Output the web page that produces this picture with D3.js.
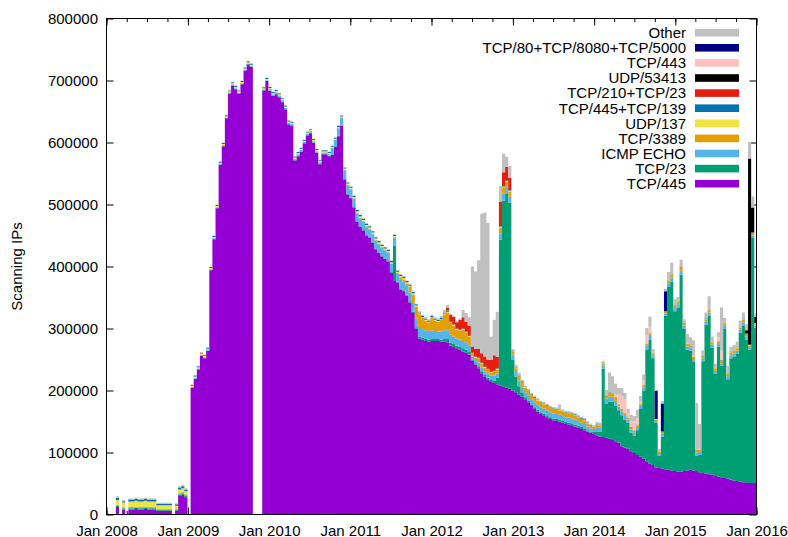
<!DOCTYPE html>
<html>
<head>
<meta charset="utf-8">
<script src="https://cdn.jsdelivr.net/npm/d3@7"></script>
<style>
  body { margin: 0; background: #fff; }
  text { font-family: "Liberation Sans", Arial, sans-serif; font-size: 15px; fill: #000; }
</style>
</head>
<body>
<div id="chart"></div>
<script>
//Data: scanning IPs per two-week period (thousands), first period starts Jan 1 2008
var tcp445 = [
  0,0,0,12,0, 8,0,8,8,9, 8,8,9,8,8, 8,6,6,6,6, 6,0,6,30,32, 28,
  0,204,219,234,256, 252,264,394,444,494, 564,594,639,679,692, 686,679,694,716,726, 722,0,0,0,684, 699,
  683,675,678,673,665, 653,629,627,571,578, 585,598,611,615,599, 583,565,581,581,578, 580,593,610,627,540, 516,
  510,495,472,464,458, 450,446,438,428,422, 416,412,408,390,378, 374,363,360,353,342, 325,300,284,282,280, 279,
  280,280,280,279,279, 278,272,270,268,266, 263,261,258,248,242, 236,228,222,218,215, 212,210,208,206,205, 203,
  200,197,193,190,186, 181,175,170,166,162, 160,157,154,152,151, 150,148,146,145,144, 142,140,138,136,134, 132,
  130,128,126,125,124, 122,120,118,116,110, 108,106,102,99,96, 93,90,86,82,80, 76,75,74,73,72, 71,
  70,69,69,70,71, 72,71,70,68,67, 66,65,64,62,61, 60,59,58,56,55, 54,53,52,52,51, 51,51
];
var tcp23 = [
  0,0,0,2,0, 2,0,2,2,2, 2,2,2,2,2, 2,1.5,1.5,1.5,1.5, 1.5,0,1.5,2,2, 2,
  0,0.5,0.5,0.5,0.5, 0.5,0.5,0.5,0.5,0.5, 0.5,0.5,0.5,0.5,0.5, 0.5,0.5,0.5,0.5,0.5, 0.5,0,0,0,0.5, 0.5,
  1,1,1,1,1, 1,1,1,1,1, 1,1,1,1,1, 1,1,1,1,1, 1,1,1,1,1, 1,
  1,1,1,1,1, 1,1,1,1,1, 1,1,1,1,55, 1.5,1.5,1.5,1.5,2, 2,2,3,3,3, 3,
  3,3,3,3,4, 5,5,5,4,4, 5,5,4,2,2, 3,3,3,3,3, 4,10,235,300,312, 300,
  50,25,14,6,3, 3,3,3,3,3, 3,3,3,3,3, 3,3,3,3,3, 3,3,3,3,2, 2,
  3,5,8,110,55, 60,62,58,52,50, 45,42,30,28,40, 77,110,180,200,172, 72,20,52,248,295, 305,
  258,265,318,230,195, 192,175,25,28,180, 240,255,205,165,210, 180,240,160,196,200, 205,240,252,230,215, 395,250
];
var icmpEcho = [
  0,0,0,1,0, 1,0,1.5,1.5,1.5, 1.5,1.5,1.5,1.5,1.5, 1.5,1,1,1,1, 1,0,1,2,2, 2,
  0,1,1,1,1, 1,1,1,1,1, 1,1,1,1,1, 1,1,1,1,1, 1,0,0,0,1, 1,
  2,2,2,2,2, 2,2,2,2,2, 2,2,2,2,2, 2,2,2,2,2, 10,10,12,12,14, 14,
  13,13,13,13,13, 13,13,13,13,13, 13,13,13,13,13, 13,14,14,14,14, 14,14,14,14,14, 14,
  14,13,12,13,14, 14,13,12,12,12, 12,12,11,5,5, 6,6,6,6,6, 8,8,10,12,10, 10,
  8,8,9,9,8, 8,8,8,8,8, 8,8,8,8,8, 8,8,8,8,8, 8,8,7,7,6, 5,
  5,8,6,5,8, 8,8,7,6,6, 6,5,5,5,5, 5,5,6,6,5, 3,4,4,3,6, 6,
  5,5,6,5,5, 5,5,5,5,5, 5,6,5,5,4, 4,5,5,5,5, 5,5,6,5,4, 4,4
];
var tcp3389 = [
  0,0,0,0.5,0, 0.5,0,0.5,0.5,0.5, 0.5,0.5,0.5,0.5,0.5, 0.5,0.5,0.5,0.5,0.5, 0.5,0,0.5,0.5,0.5, 0.5,
  0,0,0,0,0, 0,0,0,0,0, 0,0,0,0,0, 0,0,0,0,0, 0,0,0,0,0, 0,
  0,0,0,0,0, 0,0,0,0,0, 0,0,0,0,0, 0,0,0,0,0, 0,0,0,0,1, 1,
  1,1,1,1,1, 1,1,1,1,1, 1,1,1,1,1, 1,4,4,4,9, 14,19,22,18,16, 14,
  20,17,16,19,26, 29,20,18,14,14, 18,15,14,4,4, 6,6,6,6,5, 6,6,10,10,10, 8,
  5,6,8,9,8, 7,7,7,7,7, 7,7,7,7,7, 7,7,7,7,7, 7,6,6,6,5, 4,
  3,4,4,4,5, 6,5,5,4,4, 4,4,3,3,3, 3,3,4,4,3, 2,3,3,3,5, 5,
  4,4,5,4,5, 4,4,4,4,4, 4,5,4,4,4, 4,4,4,4,4, 4,4,5,4,3, 4,3
];
var udp137 = [
  0,0,0,8,0, 8,0,9,9,9, 9,9,9,9,9, 9,6,6,6,6, 6,0,5,6,6, 5,
  0,2,2,2,2, 2,2,2,2,2, 2,2,2,2,2, 2,2,2,2,2, 2,0,0,0,2, 2,
  2,2,2,2,2, 2,2,2,2,2, 2,2,2,2,2, 2,2,2,2,2, 2,2,2,2,2, 2,
  2,2,2,2,2, 2,2,2,2,2, 2,2,2,2,2, 2,2,2,2,2, 2,2,1,1,1, 1,
  1,1,1,1,1, 1,1,1,1,1, 1,1,1,1,1, 1,1,1,1,1, 1,1,1,1,1, 1,
  0.5,0.5,0.5,0.5,0.5, 0.5,0.5,0.5,0.5,0.5, 0.5,0.5,0.5,0.5,0.5, 0.5,0.5,0.5,0.5,0.5, 0.5,0.5,0.5,0.5,0.5, 0.5,
  0.5,0.5,0.5,0.5,0.5, 0.5,0.5,0.5,0.5,0.5, 0.5,0.5,0.5,0.5,0.5, 0.5,0.5,0.5,0.5,0.5, 0.5,0.5,0.5,0.5,0.5, 0.5,
  0.5,0.5,0.5,0.5,0.5, 0.5,0.5,0.5,0.5,0.5, 0.5,0.5,0.5,0.5,0.5, 0.5,0.5,0.5,0.5,0.5, 0.5,0.5,0.5,0.5,0.5, 0.5,0.5
];
var tcp445139 = [
  0,0,0,3,0, 2,0,3,3,3, 3,3,3,3,3, 3,2.5,2.5,2.5,2.5, 2.5,0,2.5,3,3, 3,
  0,1.5,1.5,1.5,1.5, 1.5,1.5,1.5,1.5,1.5, 1.5,1.5,1.5,1.5,1.5, 1.5,1.5,1.5,1.5,1.5, 1.5,0,0,0,1.5, 1.5,
  1.5,1.5,1.5,1.5,1.5, 1.5,1.5,1.5,1.5,1.5, 1.5,1.5,1.5,1.5,1.5, 1.5,1.5,1.5,1.5,1.5, 1.5,1.5,1.5,1.5,1.5, 1.5,
  2,2,2,2,2, 2,2,2,2,2, 2,2,2,2,2, 2,2,2,2,2, 2,2,2,2,2, 2,
  2,2,2,2,2, 2,1,1,1,1, 1,1,1,1,1, 1,1,1,1,1, 1,1,1,1,1, 1,
  1,1,1,1,1, 1,1,1,1,1, 1,1,1,1,1, 1,1,1,1,1, 1,1,1,1,1, 1,
  0.5,0.5,0.5,0.5,0.5, 0.5,0.5,0.5,0.5,0.5, 0.5,0.5,0.5,0.5,0.5, 0.5,0.5,0.5,0.5,0.5, 0.5,0.5,0.5,0.5,0.5, 0.5,
  0.5,0.5,0.5,0.5,0.5, 0.5,0.5,0.5,0.5,0.5, 0.5,0.5,0.5,0.5,0.5, 0.5,0.5,0.5,0.5,0.5, 0.5,0.5,0.5,0.5,0.5, 0.5,0.5
];
var tcp21023 = [
  0,0,0,0,0, 0,0,0,0,0, 0,0,0,0,0, 0,0,0,0,0, 0,0,0,0,0, 0,
  0,0,0,0,0, 0,0,0,0,0, 0,0,0,0,0, 0,0,0,0,0, 0,0,0,0,0, 0,
  0,0,0,0,0, 0,0,0,0,0, 0,0,0,0,0, 0,0,0,0,0, 0,0,0,0,0, 0,
  0,0,0,0,0, 0,0,0,0,0, 0,0,0,0,0, 0,0,0,0,0, 0,0,0,0,0, 0,
  0,0,0,0,0, 4,10,12,10,16, 18,16,16,10,12, 14,15,16,15,18, 25,18,40,22,22, 20,
  0,0,0,0,0, 0,0,0,0,0, 0,0,0,0,0, 0,0,0,0,0, 0,0,0,0,0, 0,
  0,0,0,0,0, 0,0,0,0,0, 0,0,0,0,0, 0,0,0,0,0, 0,0,0,0,0, 0,
  0,0,0,0,0, 0,0,0,0,0, 0,0,0,0,0, 0,0,0,0,0, 0,0,0,0,0, 0,0
];
var udp53413 = [
  0,0,0,0,0, 0,0,0,0,0, 0,0,0,0,0, 0,0,0,0,0, 0,0,0,0,0, 0,
  0,0,0,0,0, 0,0,0,0,0, 0,0,0,0,0, 0,0,0,0,0, 0,0,0,0,0, 0,
  0,0,0,0,0, 0,0,0,0,0, 0,0,0,0,0, 0,0,0,0,0, 0,0,0,0,0, 0,
  0,0,0,0,0, 0,0,0,0,0, 0,0,0,0,0, 0,0,0,0,0, 0,0,0,0,0, 0,
  0,0,0,0,0, 0,0,0,0,0, 0,0,0,0,0, 0,0,0,0,0, 0,0,0,0,0, 0,
  0,0,0,0,0, 0,0,0,0,0, 0,0,0,0,0, 0,0,0,0,0, 0,0,0,0,0, 0,
  0,0,0,0,0, 0,0,0,0,0, 0,0,0,0,0, 0,0,0,0,0, 0,0,0,0,0, 0,
  0,0,0,0,0, 0,0,0,0,0, 0,0,0,0,0, 0,0,0,0,0, 0,0,0,5,300, 40,10
];
var tcp443 = [
  0,0,0,0,0, 0,0,0,0,0, 0,0,0,0,0, 0,0,0,0,0, 0,0,0,0,0, 0,
  0,0,0,0,0, 0,0,0,0,0, 0,0,0,0,0, 0,0,0,0,0, 0,0,0,0,0, 0,
  0,0,0,0,0, 0,0,0,0,0, 0,0,0,0,0, 0,0,0,0,0, 0,0,0,0,0, 0,
  0,0,0,0,0, 0,0,0,0,0, 0,0,0,0,0, 0,0,0,0,0, 0,0,0,0,0, 0,
  0,0,0,0,0, 0,0,0,0,0, 0,0,0,0,0, 0,0,0,0,0, 0,0,0,0,0, 0,
  0,0,0,0,0, 0,0,0,0,0, 0,0,0,0,0, 0,0,0,0,0, 0,0,0,0,0, 0,
  0,0,0,0,0, 0,0,4,15,20, 22,5,10,15,10, 4,8,12,10,0, 0,0,0,0,0, 0,
  0,0,0,0,0, 0,0,0,0,0, 0,0,0,0,6, 15,0,0,0,0, 0,0,0,0,0, 0,0
];
var tcp80 = [
  0,0,0,0,0, 0,0,0,0,0, 0,0,0,0,0, 0,0,0,0,0, 0,0,0,0,0, 0,
  0,0,0,0,0, 0,0,0,0,0, 0,0,0,0,0, 0,0,0,0,0, 0,0,0,0,0, 0,
  0,0,0,0,0, 0,0,0,0,0, 0,0,0,0,0, 0,0,0,0,0, 0,0,0,0,0, 0,
  0,0,0,0,0, 0,0,0,0,0, 0,0,0,0,0, 0,0,0,0,0, 0,0,0,0,0, 0,
  0,0,0,0,0, 0,0,0,0,0, 0,0,0,0,0, 0,0,0,0,0, 0,0,0,0,0, 0,
  0,0,0,0,0, 0,0,0,0,0, 0,0,0,0,0, 0,0,0,0,0, 0,0,0,0,0, 0,
  0,0,0,0,0, 0,0,0,0,0, 0,0,0,0,0, 0,0,0,0,0, 45,0,45,32,0, 0,
  0,0,0,0,0, 0,0,0,0,0, 0,0,0,0,0, 0,0,0,0,0, 0,0,0,0,0, 0,0
];
var other = [
  0,0,0,3,0, 2,0,2,2,2, 2,2,2,2,2, 2,1.5,1.5,1.5,1.5, 1.5,0,1.5,2,2, 2,
  0,1,1,1,1, 1,1,1,1,1, 1,1,1,1,1, 1,1,1,1,1, 1,0,0,0,1, 1,
  0.5,0.5,0.5,0.5,0.5, 0.5,0.5,0.5,0.5,0.5, 0.5,0.5,0.5,0.5,0.5, 0.5,0.5,0.5,0.5,0.5, 1,1,1,1,1, 1,
  1,1,1,1,1, 1,1,1,1,1, 1,1,1,1,1, 1,1,1,1,1, 1,1,2,2,2, 2,
  2,2,2,3,4, 5,2,2,2,2, 12,14,13,129,125, 143,225,232,220,38, 57,73,25,30,16, 19,
  2,4,3,2,1, 2,2,2,2,2, 2,2,2,2,2, 8,2,2,2,2, 2,2,2,2,2, 2,
  2,3,3,2,8, 32,27,18,10,13, 10,7,10,8,14, 8,9,12,16,6, 3,3,4,4,12, 18,
  9,7,12,5,14, 12,25,75,40,8, 10,20,8,6,8, 70,8,12,8,8, 10,10,10,10,27, 18,5
];

var labels = ["TCP/445", "TCP/23", "ICMP ECHO", "TCP/3389", "UDP/137", "TCP/445+TCP/139",
              "TCP/210+TCP/23", "UDP/53413", "TCP/443", "TCP/80+TCP/8080+TCP/5000", "Other"];
var values = [tcp445, tcp23, icmpEcho, tcp3389, udp137, tcp445139, tcp21023, udp53413, tcp443, tcp80, other];
var yTicks = [0, 100000, 200000, 300000, 400000, 500000, 600000, 700000, 800000];

var color = d3.scaleOrdinal()
    .domain(labels)
    .range(["#9400d3", "#009e73", "#56b4e9", "#e69f00", "#f0e442", "#0072b2",
            "#e51e10", "#000000", "#ffc0c0", "#000080", "#c0c0c0"]);

var start = new Date(2008, 0, 1);
var rows = tcp445.map(function(v, i) {
  var row = { date: d3.timeDay.offset(start, 14 * i) };
  labels.forEach(function(l, k) { row[l] = (values[k][i] || 0) * 1000; });
  return row;
});
// repeat the last period so its step reaches the right edge
var lastRow = Object.assign({}, rows[rows.length - 1]);
lastRow.date = d3.timeDay.offset(start, 14 * rows.length);
rows.push(lastRow);

var margin = { top: 18.5, left: 106.5, right: 756.5, bottom: 514.5 };
var width = 788, height = 537;

var x = d3.scaleTime()
    .domain([new Date(2008, 0, 1), new Date(2016, 0, 1)])
    .range([margin.left, margin.right]);
var y = d3.scaleLinear()
    .domain([0, 800000])
    .range([margin.bottom, margin.top]);

var svg = d3.select("#chart").append("svg")
    .attr("width", width)
    .attr("height", height);

svg.append("clipPath").attr("id", "plot")
  .append("rect")
    .attr("x", margin.left).attr("y", margin.top)
    .attr("width", margin.right - margin.left)
    .attr("height", margin.bottom - margin.top);

//Ticks (drawn under the data, like gnuplot)
function ticks(g) {
  g.select(".domain").remove();
  g.selectAll(".tick line").attr("stroke", "#000");
}
svg.append("g").attr("transform", "translate(0," + margin.bottom + ")")
    .call(d3.axisBottom(x).ticks(d3.timeMonth.every(3)).tickSize(-3.5).tickFormat(""))
    .call(ticks);
svg.append("g").attr("transform", "translate(0," + margin.top + ")")
    .call(d3.axisTop(x).ticks(d3.timeMonth.every(3)).tickSize(-3.5).tickFormat(""))
    .call(ticks);
svg.append("g").attr("transform", "translate(0," + margin.top + ")")
    .call(d3.axisTop(x).ticks(d3.timeYear).tickSize(-7).tickFormat(""))
    .call(ticks);
var xAxis = svg.append("g").attr("transform", "translate(0," + margin.bottom + ")")
    .call(d3.axisBottom(x).ticks(d3.timeYear).tickSize(-7).tickPadding(11)
          .tickFormat(d3.timeFormat("%b %Y")))
    .call(ticks);
var yAxis = svg.append("g").attr("transform", "translate(" + margin.left + ",0)")
    .call(d3.axisLeft(y).tickValues(yTicks).tickSize(-7).tickPadding(8.5)
          .tickFormat(d3.format("d")))
    .call(ticks);
svg.append("g").attr("transform", "translate(" + margin.right + ",0)")
    .call(d3.axisRight(y).tickValues(yTicks).tickSize(-7).tickFormat(""))
    .call(ticks);
svg.selectAll(".tick text").attr("font-size", null).attr("font-family", null);
xAxis.attr("font-size", null).attr("font-family", null);
yAxis.attr("font-size", null).attr("font-family", null);

//Stacked areas
var stack = d3.stack().keys(labels)(rows);
var area = d3.area()
    .curve(d3.curveStepAfter)
    .x(function(d) { return x(d.data.date); })
    .y0(function(d) { return y(d[0]); })
    .y1(function(d) { return y(d[1]); });

svg.append("g").attr("clip-path", "url(#plot)")
  .selectAll("path")
  .data(stack).enter()
  .append("path")
    .attr("d", area)
    .attr("fill", function(d) { return color(d.key); });

//Border
svg.append("rect")
    .attr("x", margin.left).attr("y", margin.top)
    .attr("width", margin.right - margin.left)
    .attr("height", margin.bottom - margin.top)
    .attr("fill", "none")
    .attr("stroke", "#000");

//Y label
svg.append("text")
    .attr("transform", "translate(22," + 266.5 + ") rotate(-90)")
    .style("text-anchor", "middle")
    .text("Scanning IPs");

//Legend
var legend = svg.selectAll(".legend")
    .data(labels.slice().reverse()).enter()
    .append("g").attr("class", "legend")
    .attr("transform", function(d, i) {
      return "translate(0," + (32.7 + i * 15.1) + ")";
    });
legend.append("rect")
    .attr("x", 695).attr("y", -3.8)
    .attr("width", 44).attr("height", 7.6)
    .attr("fill", function(d) { return color(d); });
legend.append("text")
    .attr("x", 686).attr("y", 5.3)
    .style("text-anchor", "end")
    .text(function(d) { return d; });
</script>
</body>
</html>
